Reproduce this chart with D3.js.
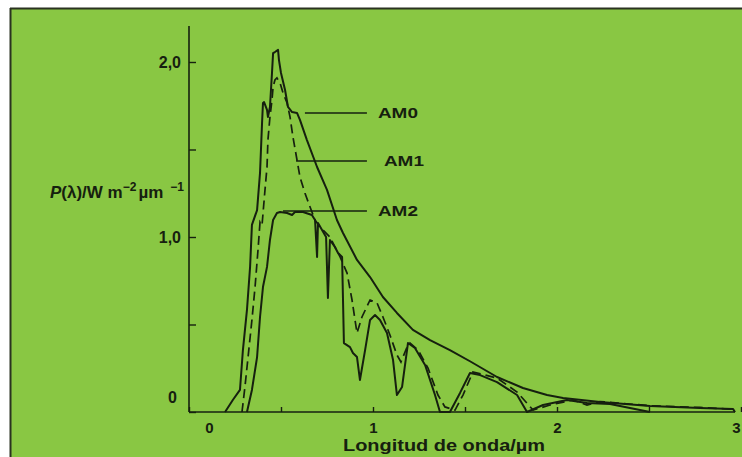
<!DOCTYPE html>
<html><head><meta charset="utf-8">
<script src="https://cdn.jsdelivr.net/npm/d3@7"></script>
<style>html,body{margin:0;padding:0;background:#fff}svg{display:block}</style>
</head><body>
<svg id="c" width="742" height="457"></svg>
<script>
// Wavelength (µm) and spectral irradiance P (W m^-2 µm^-1)
const am0Lambda = [0.196,0.239,0.277,0.293,0.315,0.332,0.342,0.370,0.386,0.397,0.402,0.408,0.424,0.429,0.440,0.451,0.457,0.467,0.484,0.489,0.500,0.522,0.538,0.560,0.587,0.603,0.641,0.696,0.750,0.804,0.837,0.913,0.984,1.054,1.130,1.217,1.310,1.418,1.527,1.674,1.815,1.946,2.033,2.234,2.505,2.777,2.957,2.967];
const am0Power  = [0,0.07,0.126,0.354,0.583,0.829,1.069,1.154,1.366,1.651,1.766,1.771,1.726,1.686,1.743,1.937,2.051,2.057,2.069,2.011,1.937,1.840,1.743,1.714,1.709,1.669,1.554,1.400,1.269,1.097,1.023,0.869,0.771,0.657,0.566,0.469,0.411,0.354,0.290,0.200,0.137,0.097,0.080,0.057,0.034,0.023,0.017,0];

const am1Lambda = [0.288,0.304,0.321,0.342,0.359,0.375,0.386,0.397,0.413,0.424,0.429,0.440,0.451,0.457,0.467,0.478,0.495,0.511,0.533,0.549,0.565,0.587,0.603,0.630,0.658,0.685,0.712,0.766,0.821,0.859,0.886,0.913,0.940,0.984,1.022,1.054,1.092,1.130,1.152,1.185,1.201,1.245,1.299,1.353,1.391,1.446,1.489,1.543,1.674,1.783,1.870,1.962,2.087,2.163,2.234,2.505,2.777,2.957,2.967];
const am1Power  = [0,0.143,0.314,0.526,0.714,0.926,1.086,1.069,1.269,1.400,1.554,1.686,1.783,1.857,1.897,1.909,1.880,1.823,1.766,1.686,1.571,1.440,1.343,1.251,1.171,1.097,1.057,1.000,0.886,0.794,0.640,0.451,0.543,0.640,0.623,0.543,0.440,0.326,0.286,0.371,0.394,0.354,0.251,0.097,0.029,0.011,0.097,0.229,0.194,0.114,0.011,0.040,0.069,0.040,0.060,0.036,0.026,0.015,0];

const am2Lambda = [0.315,0.342,0.370,0.386,0.402,0.424,0.440,0.457,0.478,0.495,0.533,0.560,0.576,0.620,0.668,0.685,0.696,0.701,0.723,0.745,0.755,0.766,0.793,0.810,0.832,0.842,0.875,0.891,0.913,0.929,0.957,0.984,1.011,1.038,1.076,1.109,1.130,1.158,1.190,1.228,1.283,1.337,1.364,1.418,1.473,1.527,1.582,1.674,1.783,1.837,1.924,2.054,2.163,2.288,2.505];
const am2Power  = [0,0.126,0.314,0.543,0.714,0.829,0.983,1.097,1.137,1.143,1.137,1.126,1.143,1.143,1.126,1.097,0.886,1.080,1.040,1.000,0.651,0.983,0.943,0.909,0.886,0.394,0.371,0.337,0.314,0.183,0.354,0.526,0.554,0.526,0.451,0.297,0.097,0.143,0.394,0.366,0.269,0.097,0,0,0.109,0.223,0.211,0.171,0.097,0,0.040,0.069,0.051,0.046,0];

const seriesNames = ["AM0","AM1","AM2"];
// leader line: start wavelength, level, end wavelength
const leaderStart = [0.630,0.582,0.511];
const leaderLevel = [1.709,1.434,1.149];
const leaderEnd   = [0.967,0.967,0.967];

const xTicks = [0,0.5,1,1.5,2,2.5,3];
const xTickLabels = ["0","","1","","2","","3"];
const yTicks = [0,0.5,1,1.5,2];
const yTickLabels = ["0","","1,0","","2,0"];
const xTitle = "Longitud de onda/µm";

const svg = d3.select("#c");
const ink = "#16200f";
const W = 742, H = 457;
const FONT = "Liberation Sans, Arial, sans-serif";

svg.append("rect").attr("width",W).attr("height",H).attr("fill","#ffffff");
svg.append("rect").attr("x",10).attr("y",8).attr("width",W-10).attr("height",H-8).attr("fill","#89c743");
svg.append("line").attr("x1",10).attr("x2",W).attr("y1",8.5).attr("y2",8.5).attr("stroke","#2a3320").attr("stroke-width",2);
svg.append("line").attr("x1",10.5).attr("x2",10.5).attr("y1",8).attr("y2",H).attr("stroke","#2a3320").attr("stroke-width",2);

const x = d3.scaleLinear().domain([0,3]).range([189,741]);
const y = d3.scaleLinear().domain([0,2]).range([412,62]);

// axes (ticks inward)
const gx = svg.append("g").attr("transform",`translate(0,${y(0)})`)
  .call(d3.axisBottom(x).tickValues(xTicks).tickSize(-5).tickSizeOuter(0)
    .tickFormat((d,i)=>xTickLabels[i]).tickPadding(10));
gx.select(".domain").remove();
gx.selectAll(".tick line").attr("stroke",ink).attr("stroke-width",1.4);
gx.selectAll(".tick text").attr("fill",ink).style("font-family",FONT)
  .style("font-size","15px").style("font-weight","bold");
gx.selectAll(".tick").filter(d=>d===0).select("text").attr("dx",20);
gx.selectAll(".tick").filter(d=>d===3).select("text").attr("dx",-5);

const gy = svg.append("g").attr("transform",`translate(${x(0)},0)`)
  .call(d3.axisLeft(y).tickValues(yTicks).tickSize(-7).tickSizeOuter(0)
    .tickFormat((d,i)=>yTickLabels[i]).tickPadding(8));
gy.select(".domain").remove();
gy.selectAll(".tick line").attr("stroke",ink).attr("stroke-width",1.4);
gy.selectAll(".tick text").attr("fill",ink).style("font-family",FONT)
  .style("font-size","16px").style("font-weight","bold");
gy.selectAll(".tick").filter(d=>d===0).select("text").attr("dy","-0.6em").attr("dx",-4);

// axis lines
svg.append("line").attr("x1",x(0)).attr("x2",x(0)).attr("y1",y(2.206)).attr("y2",y(0))
  .attr("stroke",ink).attr("stroke-width",1.6);
svg.append("line").attr("x1",x(0)).attr("x2",x(2.967)).attr("y1",y(0)).attr("y2",y(0))
  .attr("stroke",ink).attr("stroke-width",1.6);

const line = d3.line().x(d=>x(d[0])).y(d=>y(d[1]));
const zip = (a,b)=>a.map((v,i)=>[v,b[i]]);

svg.append("path").datum(zip(am2Lambda,am2Power)).attr("d",line)
  .attr("fill","none").attr("stroke",ink).attr("stroke-width",2).attr("stroke-linejoin","round");
svg.append("path").datum(zip(am1Lambda,am1Power)).attr("d",line)
  .attr("fill","none").attr("stroke",ink).attr("stroke-width",1.7).attr("stroke-dasharray","9,5");
svg.append("path").datum(zip(am0Lambda,am0Power)).attr("d",line)
  .attr("fill","none").attr("stroke",ink).attr("stroke-width",2).attr("stroke-linejoin","round");

// leader lines & labels
seriesNames.forEach((n,i)=>{
  svg.append("line").attr("x1",x(leaderStart[i])).attr("x2",x(leaderEnd[i]))
    .attr("y1",y(leaderLevel[i])).attr("y2",y(leaderLevel[i]))
    .attr("stroke",ink).attr("stroke-width",1.6);
  svg.append("text").attr("x",x(leaderEnd[i])+(i===1?17:11)).attr("y",y(leaderLevel[i]))
    .attr("dy","0.36em").attr("fill",ink)
    .style("font-family",FONT).style("font-size","15px").style("font-weight","bold")
    .attr("textLength",40).attr("lengthAdjust","spacingAndGlyphs")
    .text(n);
});

// axis titles
svg.append("text").attr("x",343).attr("y",451).attr("fill",ink)
  .style("font-family",FONT).style("font-size","16px").style("font-weight","bold")
  .attr("textLength",202).attr("lengthAdjust","spacingAndGlyphs").text(xTitle);

const yt = svg.append("text").attr("x",50).attr("y",198).attr("fill",ink)
  .style("font-family",FONT).style("font-size","17px").style("font-weight","bold");
yt.append("tspan").style("font-style","italic").text("P");
yt.append("tspan").text("(λ)/W m");
yt.append("tspan").attr("dy",-7).style("font-size","12px").text("−2");
yt.append("tspan").attr("dx",2).attr("dy",7).text("µm");
yt.append("tspan").attr("dx",7).attr("dy",-7).style("font-size","12px").text("−1");
</script>
</body></html>
